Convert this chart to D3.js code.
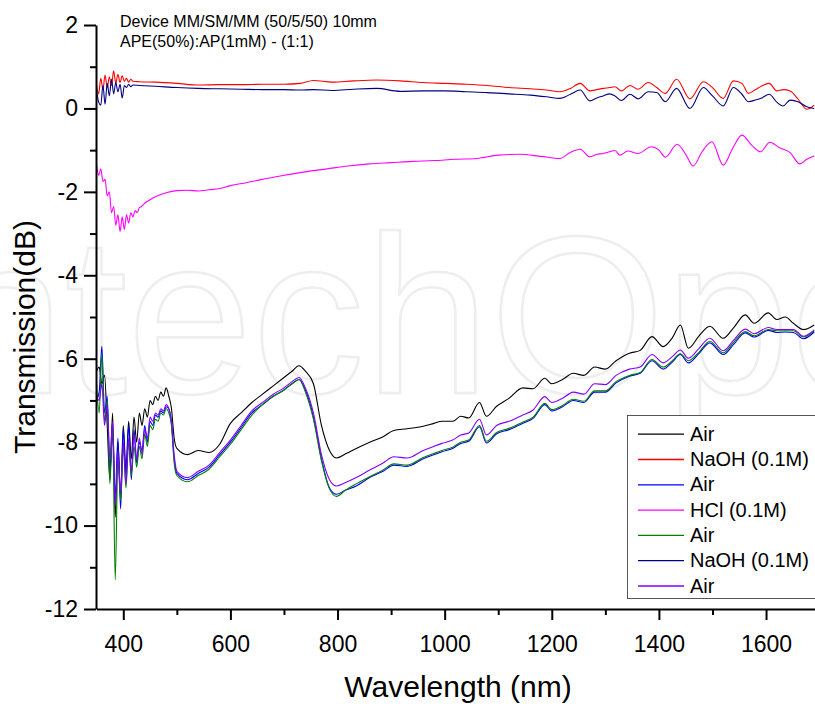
<!DOCTYPE html>
<html>
<head>
<meta charset="utf-8">
<script src="https://cdn.jsdelivr.net/npm/d3@7"></script>
<style>
  body { margin: 0; background: #fff; }
  svg { display: block; font-family: "Liberation Sans", Arial, sans-serif; }
</style>
</head>
<body>
<div id="chart"></div>
<script>
// wavelength grids (nm)
var lowWl = [350,355,360,365,370,375,380,385,390,395,
  400,405,410,415,420,425,430,435,440,445,
  450,455,460,465,470,475,480,485,490,495,
  500,520,540,560,580,600,620,640,660,680,
  700,715,728,740,755,770,785,798,815,835,
  860,885,905,930,960,980,995,1015,1030,1045,
  1065,1078,1097,1120,1146,1165,1187,1200,1220,1240,
  1260,1280,1300,1320,1345,1365,1387,1408,1425,1440,
  1455,1475,1495,1520,1540,1561,1578,1604,1620,1636,
  1651,1670,1690];

var topWl = [350,354,358,362,366,370,374,378,382,386,
  390,394,398,402,406,410,414,418,430,460,
  500,540,580,620,660,700,730,755,790,830,
  873,917,960,1000,1040,1080,1120,1160,1190,1215,
  1235,1253,1271,1284,1296,1308,1318,1330,1346,1361,
  1380,1396,1412,1433,1458,1483,1500,1520,1539,1555,
  1567,1580,1592,1606,1620,1632,1645,1660,1676,1690];

var hclWl = [350,354,358,362,366,370,374,378,382,386,
  390,394,398,402,406,410,414,418,422,426,
  430,434,438,442,446,460,480,500,520,540,
  560,580,600,630,660,700,740,780,820,860,
  900,940,980,1020,1060,1100,1140,1180,1215,1235,
  1253,1271,1284,1296,1308,1318,1327,1342,1361,1386,
  1400,1412,1434,1450,1464,1480,1499,1520,1538,1555,
  1573,1590,1607,1625,1645,1663,1676,1690];

// transmission (dB)
var airBlack = [-6.3,-6.2,-6.6,-6.4,-7.6,-8.9,-7.3,-9.8,-8.0,-9.3,
  -7.6,-8.7,-7.5,-8.4,-7.4,-8.0,-7.3,-7.6,-7.2,-7.4,
  -7.0,-7.1,-6.9,-7.0,-6.8,-6.9,-6.7,-6.9,-7.2,-7.9,
  -8.15,-8.3,-8.2,-8.25,-8.05,-7.55,-7.3,-7.05,-6.85,-6.65,
  -6.45,-6.3,-6.17,-6.3,-6.6,-7.6,-8.2,-8.38,-8.28,-8.15,
  -8.0,-7.87,-7.72,-7.68,-7.62,-7.55,-7.5,-7.5,-7.38,-7.42,
  -7.05,-7.38,-7.14,-6.95,-6.7,-6.72,-6.47,-6.6,-6.5,-6.35,
  -6.4,-6.2,-6.25,-6.05,-5.87,-5.8,-5.47,-5.71,-5.5,-5.19,
  -5.75,-5.45,-5.22,-5.51,-5.25,-4.95,-5.15,-4.9,-5.06,-5.0,
  -5.15,-5.3,-5.19];

var naohRed = [0.55,0.35,0.72,0.45,0.8,0.5,0.75,0.55,0.9,0.6,
  0.82,0.62,0.78,0.65,0.72,0.63,0.7,0.65,0.64,0.63,
  0.6,0.56,0.57,0.57,0.58,0.58,0.6,0.67,0.63,0.66,
  0.68,0.66,0.62,0.6,0.58,0.55,0.5,0.47,0.44,0.40,
  0.48,0.60,0.42,0.45,0.48,0.5,0.52,0.42,0.55,0.46,
  0.62,0.5,0.36,0.70,0.23,0.64,0.5,0.24,0.66,0.60,
  0.36,0.45,0.54,0.60,0.42,0.45,0.42,0.22,-0.02,0.08];

var airBlue = [-7.0,-6.8,-5.7,-7.3,-6.9,-8.7,-7.8,-9.3,-7.9,-9.6,
  -7.7,-8.8,-7.6,-8.9,-7.7,-8.5,-8.0,-8.2,-7.6,-8.0,
  -7.5,-7.6,-7.35,-7.4,-7.25,-7.3,-7.15,-7.2,-7.55,-8.4,
  -8.75,-8.9,-8.75,-8.6,-8.3,-8.0,-7.65,-7.3,-7.1,-6.9,
  -6.75,-6.6,-6.5,-6.75,-7.4,-8.4,-9.1,-9.25,-9.15,-9.05,
  -8.85,-8.7,-8.55,-8.58,-8.4,-8.3,-8.23,-8.15,-8.03,-7.98,
  -7.63,-8.02,-7.8,-7.7,-7.55,-7.43,-7.1,-7.25,-7.15,-7.0,
  -7.05,-6.8,-6.8,-6.58,-6.42,-6.35,-6.05,-6.25,-6.08,-5.9,
  -6.1,-5.87,-5.62,-5.9,-5.65,-5.38,-5.48,-5.32,-5.37,-5.36,
  -5.37,-5.52,-5.36];

var hclMagenta = [-1.35,-1.6,-1.45,-1.75,-1.7,-2.1,-2.0,-2.5,-2.35,-2.8,
  -2.55,-2.95,-2.6,-2.9,-2.55,-2.75,-2.5,-2.6,-2.45,-2.5,
  -2.38,-2.35,-2.3,-2.25,-2.22,-2.12,-2.02,-1.97,-1.96,-1.98,
  -1.95,-1.92,-1.85,-1.78,-1.7,-1.6,-1.52,-1.45,-1.38,-1.33,
  -1.3,-1.27,-1.25,-1.22,-1.2,-1.12,-1.1,-1.15,-1.20,-1.05,
  -0.98,-1.16,-1.1,-1.08,-1.04,-1.01,-1.12,-1.02,-1.08,-0.92,
  -1.0,-1.17,-0.86,-1.1,-1.38,-1.05,-0.80,-1.36,-0.95,-0.64,
  -0.88,-1.04,-0.81,-0.94,-1.06,-1.33,-1.22,-1.14];

var airGreen = [-6.6,-7.3,-5.9,-7.5,-7.0,-9.0,-7.6,-11.3,-8.4,-9.4,
  -8.1,-9.1,-8.0,-8.8,-8.1,-8.6,-8.1,-8.4,-7.8,-8.1,
  -7.6,-7.7,-7.45,-7.5,-7.3,-7.35,-7.2,-7.3,-7.6,-8.5,
  -8.8,-8.95,-8.8,-8.65,-8.35,-8.05,-7.7,-7.35,-7.1,-6.9,
  -6.75,-6.6,-6.5,-6.8,-7.45,-8.45,-9.12,-9.3,-9.15,-9.0,
  -8.83,-8.67,-8.52,-8.55,-8.37,-8.27,-8.2,-8.12,-8.0,-7.95,
  -7.6,-7.98,-7.77,-7.67,-7.52,-7.4,-7.07,-7.22,-7.12,-6.97,
  -7.02,-6.77,-6.77,-6.55,-6.4,-6.33,-6.02,-6.2,-6.05,-5.88,
  -6.05,-5.84,-5.58,-5.86,-5.6,-5.35,-5.45,-5.3,-5.33,-5.33,
  -5.33,-5.48,-5.33];

var naohNavy = [0.45,0.15,0.08,0.55,0.1,0.6,0.3,0.7,0.35,0.62,
  0.4,0.58,0.25,0.55,0.5,0.58,0.52,0.56,0.55,0.53,
  0.5,0.48,0.47,0.46,0.45,0.45,0.44,0.45,0.43,0.46,
  0.48,0.41,0.42,0.42,0.4,0.38,0.35,0.32,0.28,0.24,
  0.34,0.44,0.18,0.25,0.30,0.35,0.30,0.19,0.34,0.23,
  0.40,0.38,0.16,0.48,0.0,0.50,0.3,0.06,0.50,0.34,
  0.16,0.2,0.25,0.34,0.15,0.06,0.20,0.16,0.04,0.0];

var airViolet = [-6.9,-7.0,-6.6,-7.6,-7.1,-8.4,-7.5,-9.5,-8.2,-9.2,
  -8.0,-9.0,-7.9,-8.7,-7.8,-8.4,-7.9,-8.3,-7.7,-7.9,
  -7.4,-7.5,-7.3,-7.35,-7.2,-7.25,-7.1,-7.2,-7.5,-8.3,
  -8.7,-8.85,-8.7,-8.55,-8.25,-7.95,-7.6,-7.25,-7.05,-6.85,
  -6.7,-6.55,-6.45,-6.7,-7.3,-8.3,-8.9,-9.05,-8.97,-8.85,
  -8.67,-8.5,-8.35,-8.38,-8.2,-8.1,-8.03,-7.95,-7.83,-7.78,
  -7.45,-7.83,-7.6,-7.5,-7.35,-7.23,-6.91,-7.05,-6.95,-6.8,
  -6.85,-6.6,-6.62,-6.4,-6.25,-6.2,-5.9,-6.1,-5.95,-5.79,
  -5.99,-5.75,-5.51,-5.81,-5.55,-5.29,-5.4,-5.25,-5.3,-5.3,
  -5.3,-5.46,-5.31];

var seriesNames = ["Air", "NaOH (0.1M)", "Air", "HCl (0.1M)", "Air", "NaOH (0.1M)", "Air"];
var xTicks = [400, 600, 800, 1000, 1200, 1400, 1600];
var xMinor = [500, 700, 900, 1100, 1300, 1500, 1700];
var yTicks = [-12, -10, -8, -6, -4, -2, 0, 2];
var yMinor = [-11, -9, -7, -5, -3, -1, 1];
var noteLines = ["Device MM/SM/MM (50/5/50) 10mm", "APE(50%):AP(1mM) - (1:1)"];

var colors = ["#000000", "#ff0000", "#0000ff", "#ff00ff", "#008000", "#000080", "#8000ff"];
var series = [
  {wl: lowWl, v: airBlack},
  {wl: topWl, v: naohRed},
  {wl: lowWl, v: airBlue},
  {wl: hclWl, v: hclMagenta},
  {wl: lowWl, v: airGreen},
  {wl: topWl, v: naohNavy},
  {wl: lowWl, v: airViolet}
].map(function(s, i) {
  return {name: seriesNames[i], color: colors[i], points: d3.zip(s.wl, s.v)};
});

var width = 815, height = 709;

var x = d3.scaleLinear().domain([350, 1700]).range([96.5, 819.6]);
var y = d3.scaleLinear().domain([-12, 2]).range([609, 25]);

var svg = d3.select("#chart").append("svg")
  .attr("width", width)
  .attr("height", height);

// faint publisher watermark
svg.append("text")
  .attr("x", -123)
  .attr("y", 393)
  .attr("font-size", 225)
  .attr("fill", "none")
  .attr("stroke", "#eeeeee")
  .attr("stroke-width", 2.5)
  .text("IntechOpen");

svg.append("clipPath").attr("id", "plot-clip")
  .append("rect")
  .attr("x", 96).attr("y", 0)
  .attr("width", 730).attr("height", 609);

var line = d3.line()
  .x(function(d) { return x(d[0]); })
  .y(function(d) { return y(d[1]); })
  .curve(d3.curveMonotoneX);

svg.append("g")
  .attr("clip-path", "url(#plot-clip)")
  .selectAll("path")
  .data(series)
  .enter().append("path")
  .attr("fill", "none")
  .attr("stroke", function(d) { return d.color; })
  .attr("stroke-width", 1.1)
  .attr("d", function(d) { return line(d.points); });

// y axis
var yAxis = svg.append("g")
  .attr("transform", "translate(96,0)")
  .call(d3.axisLeft(y).tickValues(yTicks).tickSize(12).tickSizeOuter(0).tickPadding(6)
    .tickFormat(function(d) { return String(d); }));
svg.append("g")
  .attr("transform", "translate(96,0)")
  .call(d3.axisLeft(y).tickValues(yMinor).tickSize(6).tickFormat(""))
  .call(function(g) { g.select(".domain").remove(); });

// x axis
var xAxis = svg.append("g")
  .attr("transform", "translate(0,609)")
  .call(d3.axisBottom(x).tickValues(xTicks).tickSize(11).tickSizeOuter(0).tickPadding(16)
    .tickFormat(function(d) { return String(d); }));
svg.append("g")
  .attr("transform", "translate(0,609)")
  .call(d3.axisBottom(x).tickValues(xMinor).tickSize(6).tickFormat(""))
  .call(function(g) { g.select(".domain").remove(); });

svg.selectAll(".domain, .tick line")
  .attr("stroke", "#000")
  .attr("stroke-width", 2);
[yAxis, xAxis].forEach(function(g) {
  g.selectAll("text")
    .attr("font-size", 23)
    .attr("font-family", "'Liberation Sans', Arial, sans-serif")
    .attr("fill", "#000");
});

// axis titles
svg.append("text")
  .attr("x", 458)
  .attr("y", 697)
  .attr("text-anchor", "middle")
  .attr("font-size", 30)
  .text("Wavelength (nm)");

svg.append("text")
  .attr("transform", "translate(35,337) rotate(-90)")
  .attr("text-anchor", "middle")
  .attr("font-size", 30)
  .text("Transmission(dB)");

// annotation
svg.selectAll(".note")
  .data(noteLines)
  .enter().append("text")
  .attr("class", "note")
  .attr("x", 120)
  .attr("y", function(d, i) { return 26.5 + i * 20; })
  .attr("font-size", 16)
  .text(function(d) { return d; });

// legend
var legend = svg.append("g");
legend.append("rect")
  .attr("x", 627.5).attr("y", 415.5)
  .attr("width", 210).attr("height", 183)
  .attr("fill", "#fff")
  .attr("stroke", "#555")
  .attr("stroke-width", 1);

var rows = legend.selectAll(".row")
  .data(series)
  .enter().append("g")
  .attr("class", "row")
  .attr("transform", function(d, i) { return "translate(0," + (440.7 + i * 25.3) + ")"; });

rows.append("line")
  .attr("x1", 638).attr("x2", 684)
  .attr("y1", -6.5).attr("y2", -6.5)
  .attr("stroke", function(d) { return d.color; })
  .attr("stroke-width", 1.3);

rows.append("text")
  .attr("x", 690)
  .attr("font-size", 20)
  .text(function(d) { return d.name; });
</script>
</body>
</html>
